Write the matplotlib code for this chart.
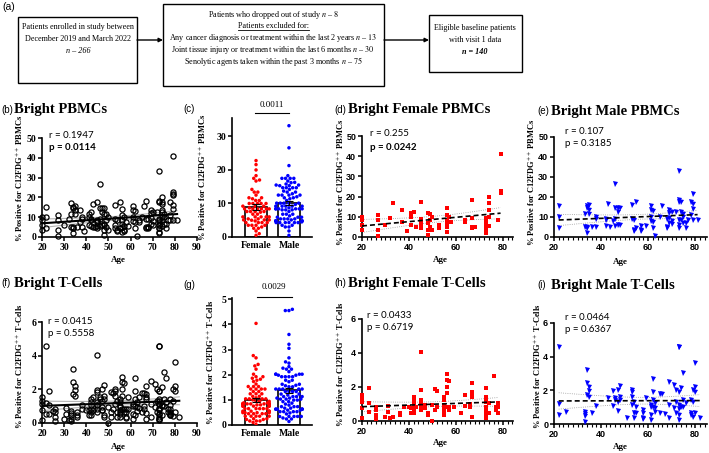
import numpy as np
import matplotlib
matplotlib.use('Agg')
import matplotlib.pyplot as plt
import seaborn as sns
from matplotlib.patches import Rectangle

plt.rcParams['mathtext.fontset'] = 'stix'
plt.rcParams['font.family'] = 'Liberation Serif'

SERIF = 'Liberation Serif'
SANS = 'Liberation Sans'
NOTE = 'Lato'
RED = '#ff0000'
BLUE = '#0000ff'
FIG_W, FIG_H = 709, 453

# ---- data ----
# female PBMCs (panel d)
fem_pbmc_age = [20, 20, 20, 20,
                27, 27, 27, 27,
                30, 32, 33,
                37, 37,
                39,
                41, 41, 41,
                42, 43,
                45, 45, 45, 45, 45,
                48, 48, 48, 48,
                49, 49, 49,
                50, 50,
                53, 53,
                56, 56, 56, 56, 56, 56,
                57, 58,
                64, 64,
                67, 67, 67, 67,
                68,
                73, 73, 73, 73, 73, 73,
                74, 74, 74, 74, 74,
                78,
                79, 79, 79]
fem_pbmc = [10.0, 8.4, 6.0, 3.5,
            10.9, 8.4, 3.5, 0.5,
            6.0, 9.2, 17.0,
            13.4, 7.4,
            3.0,
            11.7, 10.0, 6.0,
            12.5, 5.0,
            17.5, 8.7, 7.6, 5.4, 4.3,
            11.7, 6.8, 3.5, 1.0,
            11.4, 8.4, 5.1,
            10.0, 3.5,
            6.0, 4.3,
            14.2, 10.9, 8.4, 6.8, 5.1, 2.6,
            10.0, 7.6,
            8.4, 7.6,
            18.3, 9.2, 5.1, 4.3,
            4.8,
            9.2, 7.6, 6.0, 4.3, 2.6, 1.8,
            20.0, 16.7, 13.4, 10.0, 5.4,
            8.4,
            41.0, 22.8, 21.6]

# male PBMCs (panel e)
male_pbmc_age = [22, 22, 22,
                 33, 33,
                 34, 34, 34, 34, 34,
                 35, 35, 35,
                 36,
                 38, 38, 38,
                 42, 42, 42,
                 43, 44, 45,
                 46, 46, 46, 46,
                 47, 47, 47,
                 48, 48,
                 53, 53,
                 54, 54, 54,
                 55, 55,
                 57, 57, 57,
                 59,
                 61, 61, 61, 61,
                 62, 62, 62,
                 63, 65, 66,
                 68, 68, 68,
                 69, 69, 69, 69,
                 70, 70, 70,
                 72,
                 73, 73, 73, 73, 73, 73,
                 74, 74, 74,
                 75, 75, 75,
                 76, 76,
                 77,
                 78, 78,
                 79, 79, 79, 79,
                 81]
male_pbmc = [15.3, 10.1, 4.3,
             11.7, 4.8,
             15.3, 14.7, 4.8, 4.5, 1.8,
             15.8, 13.4, 11.4,
             4.8,
             10.1, 9.2, 4.8,
             9.2, 8.4, 5.4,
             16.7, 4.8, 8.1,
             26.6, 14.7, 9.2, 5.4,
             14.7, 12.5, 5.9,
             14.7, 5.9,
             16.2, 9.2,
             8.7, 3.5, 3.0,
             17.5, 4.3,
             5.4, 3.5, 3.0,
             5.4,
             15.5, 13.4, 10.1, 8.1,
             12.9, 7.6, 4.3,
             0.5, 10.1, 15.5,
             9.2, 5.1, 4.3,
             13.7, 12.0, 9.7, 6.8,
             12.5, 8.1, 6.3,
             12.5,
             33.2, 18.3, 17.5, 8.4, 5.9, 4.3,
             17.5, 12.5, 8.4,
             11.7, 10.1, 6.8,
             6.8, 4.3,
             8.4,
             17.5, 10.9,
             21.3, 16.3, 14.2, 8.4,
             8.4]

# female T-cells (panel h)
fem_tcell_age = [20, 20, 20, 20, 20,
                 23, 23, 23,
                 26, 26, 26, 26,
                 30, 31, 31, 32, 33,
                 36, 36, 38, 40,
                 41, 41,
                 42, 42, 42, 42, 42, 42,
                 43,
                 45, 45, 45, 45, 45, 45,
                 47, 47,
                 48, 48,
                 50, 50,
                 51, 51,
                 52, 52,
                 55, 55, 55, 55, 55, 55,
                 56, 56, 56, 56, 56,
                 57, 57, 57,
                 59, 62,
                 64, 64,
                 66, 66,
                 67, 67, 67, 67, 67,
                 73, 73, 73, 73, 73, 73, 73, 73, 73, 73,
                 74, 74,
                 76,
                 77, 77,
                 78, 78, 78, 78]
fem_tcell = [1.53, 1.33, 1.14, 0.75, 0.16,
             1.92, 1.04, 0.55,
             0.84, 0.65, 0.35, 0.10,
             0.25, 0.88, 0.55, 0.16, 0.22,
             0.45, 0.35, 0.84, 0.80,
             0.75, 0.49,
             1.43, 1.24, 1.04, 0.84, 0.65, 0.49,
             0.80,
             4.04, 1.82, 1.24, 1.04, 0.84, 0.65,
             0.94, 0.75,
             0.45, 0.35,
             0.94, 0.02,
             1.86, 0.65,
             1.78, 0.84,
             1.43, 1.24, 0.94, 0.75, 0.55, 0.35,
             2.76, 2.41, 2.02, 1.63, 0.84,
             2.35, 0.84, 0.65,
             0.84, 0.49,
             1.53, 0.88,
             1.00, 0.84,
             2.22, 1.73, 1.53, 1.43, 0.22,
             1.92, 1.43, 1.33, 1.14, 0.84, 0.75, 0.55, 0.35, 0.25, 0.16,
             1.04, 0.45,
             2.67,
             0.84, 0.65,
             1.08, 0.84, 0.49, 0.45]

# male T-cells (panel i)
male_tcell_age = [22, 22, 22,
                  25,
                  33, 33, 33, 33,
                  34, 34, 34,
                  35, 35, 35,
                  36, 38, 43,
                  45, 45,
                  46, 46,
                  47, 47, 47,
                  48, 48, 48,
                  51,
                  53, 53, 53, 53,
                  54, 54, 54,
                  55, 55,
                  58, 58, 58, 58,
                  59,
                  61, 61, 61, 61,
                  62, 62, 62, 62,
                  63, 63, 63,
                  65, 65,
                  66, 67,
                  69, 69, 69,
                  71, 71,
                  72, 72, 72,
                  73, 73, 73, 73, 73, 73, 73,
                  74, 74,
                  75, 75, 75,
                  76,
                  78, 78, 78,
                  79, 79, 79,
                  80, 80, 80, 80,
                  82]
male_tcell = [4.55, 1.19, 0.53,
              0.73,
              0.73, 0.59, 0.48, 0.14,
              3.21, 2.46, 1.72,
              2.22, 1.98, 1.58,
              0.67, 1.07, 1.56,
              1.98, 1.07,
              1.52, 1.43,
              2.02, 1.33, 0.79,
              2.26, 1.62, 1.43,
              0.34,
              2.02, 1.92, 1.62, 1.13,
              1.33, 0.63, 0.34,
              0.99, 0.67,
              0.83, 0.63, 0.34, 0.28,
              1.52,
              1.13, 1.03, 0.53, 0.24,
              2.67, 1.92, 1.43, 1.03,
              1.23, 0.93, 0.73,
              1.78, 0.63,
              1.78, 0.59,
              2.51, 1.13, 0.34,
              2.32, 0.93,
              2.02, 1.33, 0.63,
              4.60, 4.55, 1.92, 1.13, 0.87, 0.53, 0.24,
              2.12, 0.99,
              3.05, 1.43, 1.03,
              1.23,
              1.43, 0.63, 0.53,
              2.02, 1.33, 0.44,
              3.60, 2.22, 1.92, 0.63,
              0.34]

ylab_pbmc = '% Positive for C12FDG$^{++}$ PBMCs'
ylab_tcell = '% Positive for C12FDG$^{++}$ T-Cells'


def frac(x0, y_top, x1, y_bot):
    # pixel box -> figure fraction
    return [x0 / FIG_W, 1 - y_bot / FIG_H, (x1 - x0) / FIG_W, (y_bot - y_top) / FIG_H]


def fit_band(x, y):
    x = np.asarray(x, float)
    y = np.asarray(y, float)
    n = len(x)
    slope, icpt = np.polyfit(x, y, 1)
    resid = y - (icpt + slope * x)
    s = np.sqrt(np.sum(resid ** 2) / (n - 2))
    sxx = np.sum((x - x.mean()) ** 2)
    xs = np.linspace(x.min(), x.max(), 50)
    yf = icpt + slope * xs
    se = s * np.sqrt(1.0 / n + (xs - x.mean()) ** 2 / sxx)
    return xs, yf, yf - 1.98 * se, yf + 1.98 * se


def base_style(ax):
    for s in ['top', 'right']:
        ax.spines[s].set_visible(False)
    for s in ['left', 'bottom']:
        ax.spines[s].set_linewidth(1.2)
    ax.tick_params(which='major', width=1.1, length=3, pad=1.2)
    ax.tick_params(which='minor', width=0.8, length=1.8)


def scatter_panel(ax, x, y, marker, color, xlim, xticks, ylim, yticks, font, solid_fit):
    if marker == 'o':
        ax.plot(x, y, 'o', mfc='none', mec='black', ms=3.7, mew=0.9, clip_on=False, zorder=3)
    else:
        ax.plot(x, y, marker, color=color, ms=3.2 if marker == 's' else 3.6,
                mew=0, clip_on=False, zorder=3)
    xs, yf, lo, hi = fit_band(x, y)
    if solid_fit:
        ax.plot(xs, yf, color='black', lw=1.5, zorder=4)
        ax.plot(xs, lo, color='0.7', lw=0.8, zorder=2)
        ax.plot(xs, hi, color='0.7', lw=0.8, zorder=2)
    else:
        ax.plot(xs, yf, color='black', lw=1.2, ls=(0, (3, 1.8)), zorder=4)
        ax.plot(xs, lo, color='0.6', lw=0.6, ls=':', zorder=2)
        ax.plot(xs, hi, color='0.6', lw=0.6, ls=':', zorder=2)
    ax.set_xlim(*xlim)
    ax.set_ylim(*ylim)
    size = 7 if font == SERIF else 6.5
    ax.set_xticks(xticks, [str(t) for t in xticks], fontfamily=font, fontweight='bold', fontsize=size)
    ax.set_yticks(yticks, [str(t) for t in yticks], fontfamily=font, fontweight='bold', fontsize=size)
    if not solid_fit:
        ax.set_xticks(np.arange(20, xlim[1], 2), minor=True)
    base_style(ax)


def bar_swarm(ax, fem, male, ylim, yticks):
    ax.set_xlim(-0.73, 1.70)
    ax.set_ylim(*ylim)
    groups = ['Female'] * len(fem) + ['Male'] * len(male)
    vals = list(fem) + list(male)
    means = [np.mean(fem), np.mean(male)]
    sems = [np.std(fem, ddof=1) / np.sqrt(len(fem)), np.std(male, ddof=1) / np.sqrt(len(male))]
    ax.bar([0, 1], means, width=0.67, facecolor='white', edgecolor='black', lw=1.2, zorder=1)
    sns.swarmplot(x=groups, y=vals, hue=groups, order=['Female', 'Male'],
                  hue_order=['Female', 'Male'], palette=[RED, BLUE], size=2.5,
                  ax=ax, legend=False, zorder=3)
    ax.errorbar([0, 1], means, yerr=sems, fmt='none', ecolor='black', elinewidth=0.8,
                capsize=3, capthick=0.8, zorder=4)
    ax.set_xlim(-0.73, 1.70)
    ax.set_ylim(*ylim)
    ax.set_xlabel('')
    ax.set_ylabel('')
    ax.set_xticks([0, 1], ['Female', 'Male'], fontfamily=SERIF, fontweight='bold', fontsize=7)
    ax.set_yticks(yticks, [str(t) for t in yticks], fontfamily=SERIF, fontweight='bold', fontsize=7)
    base_style(ax)
    ax.tick_params(axis='x', length=0, pad=3)


fig = plt.figure(figsize=(FIG_W / 100, FIG_H / 100), dpi=100)

all_pbmc_age = fem_pbmc_age + male_pbmc_age
all_pbmc = fem_pbmc + male_pbmc
all_tcell_age = fem_tcell_age + male_tcell_age
all_tcell = fem_tcell + male_tcell

ax_b = fig.add_axes(frac(42, 138, 197, 237))
scatter_panel(ax_b, all_pbmc_age, all_pbmc, 'o', 'black', (20, 90), list(range(20, 91, 10)),
              (0, 50), [0, 10, 20, 30, 40, 50], SERIF, True)
ax_c = fig.add_axes(frac(232, 118, 312, 237))
bar_swarm(ax_c, fem_pbmc, male_pbmc, (0, 35.5), [0, 10, 20, 30])
ax_d = fig.add_axes(frac(362, 136, 513, 237))
scatter_panel(ax_d, fem_pbmc_age, fem_pbmc, 's', RED, (20, 84.3), [20, 40, 60, 80],
              (0, 50), [0, 10, 20, 30, 40, 50], SANS, False)
ax_e = fig.add_axes(frac(554, 137, 707, 237))
scatter_panel(ax_e, male_pbmc_age, male_pbmc, 'v', BLUE, (20, 85), [20, 40, 60, 80],
              (0, 50), [0, 10, 20, 30, 40, 50], SANS, False)

ax_f = fig.add_axes(frac(42, 322, 197, 423))
scatter_panel(ax_f, all_tcell_age, all_tcell, 'o', 'black', (20, 90), list(range(20, 91, 10)),
              (0, 6), [0, 2, 4, 6], SERIF, True)
ax_g = fig.add_axes(frac(232, 298, 312, 425))
bar_swarm(ax_g, fem_tcell, male_tcell, (0, 5.05), [0, 1, 2, 3, 4, 5])
ax_h = fig.add_axes(frac(362, 319, 513, 421))
scatter_panel(ax_h, fem_tcell_age, fem_tcell, 's', RED, (20, 84.3), [20, 40, 60, 80],
              (0, 6), [0, 2, 4, 6], SANS, False)
ax_i = fig.add_axes(frac(554, 323, 707, 424))
scatter_panel(ax_i, male_tcell_age, male_tcell, 'v', BLUE, (20, 85), [20, 40, 60, 80],
              (0, 6), [0, 2, 4, 6], SANS, False)

# overlay in pixel coordinates for flowchart and labels
ov = fig.add_axes([0, 0, 1, 1])
ov.set_xlim(0, FIG_W)
ov.set_ylim(FIG_H, 0)
ov.axis('off')

# (a) flowchart
ov.text(2, 7, '(a)', family=SANS, fontsize=7.5, va='center', ha='left')
for (x0, y0, w, h) in [(18, 17, 119, 66), (163, 4, 221, 82), (429, 15, 93, 57)]:
    ov.add_patch(Rectangle((x0, y0), w, h, fill=False, ec='black', lw=1.0))
fs = 5.9
ov.text(78, 27, 'Patients enrolled in study between', fontsize=fs, ha='center', va='center')
ov.text(78, 39, 'December 2019 and March 2022', fontsize=fs, ha='center', va='center')
ov.text(78, 51, 'n – 266', fontsize=fs, ha='center', va='center', style='italic')
ov.text(273, 15, 'Patients who dropped out of study $\\mathit{n\\ –\\ 8}$', fontsize=fs, ha='center', va='center')
t_ex = ov.text(273, 26, 'Patients excluded for:', fontsize=fs, ha='center', va='center')
ov.text(273, 38, 'Any cancer diagnosis or treatment within the last 2 years $\\mathit{n\\ –\\ 13}$',
        fontsize=fs, ha='center', va='center')
ov.text(273, 50, 'Joint tissue injury or treatment within the last 6 months $\\mathit{n\\ –\\ 30}$',
        fontsize=fs, ha='center', va='center')
ov.text(273, 62, 'Senolytic agents taken within the past 3 months $\\mathit{n\\ –\\ 75}$',
        fontsize=fs, ha='center', va='center')
ov.text(475, 28, 'Eligible baseline patients', fontsize=fs, ha='center', va='center')
ov.text(475, 40, 'with visit 1 data', fontsize=fs, ha='center', va='center')
ov.text(475, 52, 'n = 140', fontsize=fs, ha='center', va='center', style='italic', weight='bold')
for (xa, xb) in [(137, 163), (384, 429)]:
    ov.annotate('', xy=(xb, 40), xytext=(xa, 40),
                arrowprops=dict(arrowstyle='-|>', lw=1.0, color='black', mutation_scale=6,
                                shrinkA=0, shrinkB=0))

# panel titles
titles = [(1, 14, 110, '(b)', 'Bright PBMCs'), (183, None, 109, '(c)', ''),
          (334, 348, 110, '(d)', 'Bright Female PBMCs'), (537, 551, 111, '(e)', 'Bright Male PBMCs'),
          (1, 14, 283, '(f)', 'Bright T-Cells'), (183, None, 285, '(g)', ''),
          (334, 348, 283, '(h)', 'Bright Female T-Cells'), (537, 551, 285, '(i)', 'Bright Male T-Cells')]
for (xl, xt, y, lab, title) in titles:
    ov.text(xl, y, lab, family=SANS, fontsize=7, ha='left', va='center')
    if title:
        ov.text(xt, y, title, family=SERIF, weight='bold', fontsize=10.5, ha='left', va='center')

# y labels
for (x, y, lab) in [(19, 178, ylab_pbmc), (202, 177, ylab_pbmc), (340, 182, ylab_pbmc),
                    (531, 182, ylab_pbmc), (19, 366, ylab_tcell), (210, 362, ylab_tcell),
                    (340, 364, ylab_tcell), (537, 366, ylab_tcell)]:
    ov.text(x, y, lab, family=SERIF, weight='bold', fontsize=6.0, rotation=90,
            ha='center', va='center')

# x labels
for (x, y) in [(118, 260), (440, 260), (620, 262), (118, 447), (440, 443), (620, 447)]:
    ov.text(x, y, 'Age', family=SERIF, weight='bold', fontsize=6.5, ha='center', va='center')

# correlation notes
notes = [(49, 135, 'r = 0.1947', 'normal'), (49, 147, 'p = 0.0114', 'bold'),
         (370, 134, 'r = 0.255', 'normal'), (370, 147, 'p = 0.0242', 'bold'),
         (565, 132, 'r = 0.107', 'normal'), (565, 144, 'p = 0.3185', 'normal'),
         (48, 322, 'r = 0.0415', 'normal'), (48, 333, 'p = 0.5558', 'normal'),
         (367, 315, 'r = 0.0433', 'normal'), (367, 327, 'p = 0.6719', 'normal'),
         (565, 318, 'r = 0.0464', 'normal'), (565, 330, 'p = 0.6367', 'normal')]
for (x, y, s, w) in notes:
    ov.text(x, y, s, family=NOTE, weight=w, fontsize=7, ha='left', va='center')

# significance brackets
ov.plot([255, 289], [113, 113], color='black', lw=0.8)
ov.text(272, 105, '0.0011', family=SERIF, fontsize=6.5, ha='center', va='center')
ov.plot([257, 292], [297, 297], color='black', lw=0.8)
ov.text(274, 287, '0.0029', family=SERIF, fontsize=6.5, ha='center', va='center')

# underline for "Patients excluded for:"
fig.canvas.draw()
bb = t_ex.get_window_extent(renderer=fig.canvas.get_renderer())
ov.plot([bb.x0, bb.x1], [FIG_H - bb.y0 + 0.3, FIG_H - bb.y0 + 0.3], color='black', lw=0.6)

fig.savefig('out.png', dpi=100)
